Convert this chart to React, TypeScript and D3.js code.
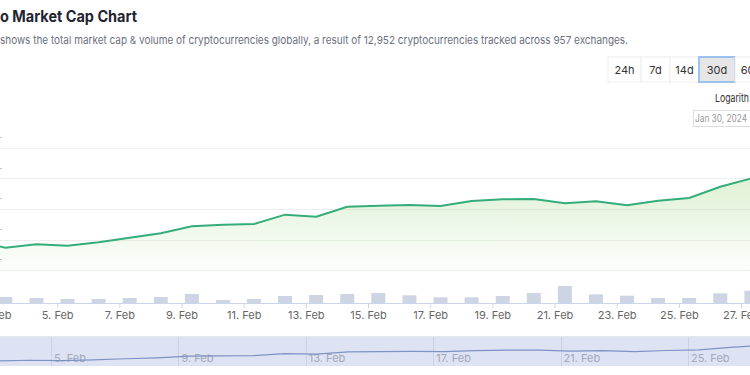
import { useEffect, useRef } from 'react'
import * as d3 from 'd3'

// Feb 2024, one sample per day (08:00 UTC), market cap in trillions USD
const days = [2, 3, 4, 5, 6, 7, 8, 9, 10, 11, 12, 13, 14, 15, 16, 17, 18, 19, 20, 21, 22, 23, 24, 25, 26, 27, 28]
const marketCap = [
  1.79, 1.746, 1.769, 1.759, 1.782, 1.812, 1.841, 1.887, 1.897, 1.902, 1.963, 1.95, 2.015, 2.022,
  2.026, 2.02, 2.052, 2.064, 2.066, 2.037, 2.05, 2.024, 2.054, 2.072, 2.146, 2.201, 2.27,
]
// 24h volume in billions USD
const volume = [
  70, 60, 50, 40, 40, 50, 60, 90, 30, 40, 70, 80, 90, 100, 77, 57, 57, 70, 100, 170, 87, 73, 50, 50,
  97, 123, 110,
]
const yTicks = [1.6, 1.8, 2.0, 2.2, 2.4]
const xTickDays = [3, 5, 7, 9, 11, 13, 15, 17, 19, 21, 23, 25, 27]
const navTickDays = [5, 9, 13, 17, 21, 25]
const ranges = ['24h', '7d', '14d', '30d', '60d']
const selectedRange = '30d'

const W = 750
const H = 375
const font = 'Inter, "Noto Sans", sans-serif'

export default function App() {
  const ref = useRef<SVGSVGElement>(null)

  useEffect(() => {
    const svg = d3.select(ref.current)
    svg.selectAll('*').remove()

    const data = days.map((d, i) => ({
      date: new Date(Date.UTC(2024, 1, d, 8)),
      cap: marketCap[i],
      vol: volume[i],
    }))

    const day = (d: number) => new Date(Date.UTC(2024, 1, d))

    // header
    svg.append('text')
      .attr('x', 0).attr('y', 22)
      .attr('font-family', font).attr('font-size', 15.5).attr('font-weight', 700)
      .attr('fill', '#1f2430')
      .attr('textLength', 137).attr('lengthAdjust', 'spacingAndGlyphs')
      .text('o Market Cap Chart')

    svg.append('text')
      .attr('x', 0).attr('y', 44)
      .attr('font-family', font).attr('font-size', 11)
      .attr('fill', '#6b7080')
      .attr('textLength', 628).attr('lengthAdjust', 'spacingAndGlyphs')
      .text('shows the total market cap & volume of cryptocurrencies globally, a result of 12,952 cryptocurrencies tracked across 957 exchanges.')

    // range buttons
    const bx = d3.scaleOrdinal<string, number>().domain(ranges).range([608, 641, 670, 699, 735])
    const bw = d3.scaleOrdinal<string, number>().domain(ranges).range([33, 29, 29, 36, 32])
    const btn = svg.append('g').selectAll('g').data(ranges).enter().append('g')
    btn.append('rect')
      .attr('x', d => bx(d)).attr('y', 57)
      .attr('width', d => bw(d)).attr('height', 25)
      .attr('fill', d => (d === selectedRange ? '#e6e6e6' : '#fff'))
      .attr('stroke', d => (d === selectedRange ? '#9cc3ee' : '#eeeeee'))
      .attr('stroke-width', d => (d === selectedRange ? 2 : 1))
    btn.append('text')
      .attr('x', d => bx(d) + bw(d) / 2).attr('y', 74)
      .attr('text-anchor', 'middle')
      .attr('font-family', font).attr('font-size', 11)
      .attr('fill', '#333')
      .text(d => d)

    svg.append('text')
      .attr('x', 715).attr('y', 102)
      .attr('font-family', font).attr('font-size', 11)
      .attr('fill', '#333')
      .attr('textLength', 34).attr('lengthAdjust', 'spacingAndGlyphs')
      .text('Logarith')

    svg.append('rect')
      .attr('x', 693.5).attr('y', 110.5).attr('width', 70).attr('height', 16)
      .attr('fill', '#fff').attr('stroke', '#dddddd')
    svg.append('text')
      .attr('x', 695).attr('y', 122)
      .attr('font-family', font).attr('font-size', 10)
      .attr('fill', '#999')
      .attr('textLength', 52).attr('lengthAdjust', 'spacingAndGlyphs')
      .text('Jan 30, 2024')

    // main scales
    const x = d3.scaleUtc().domain([day(3), day(27)]).range([-5, 741])
    const y = d3.scaleLinear().domain([1.6, 2.4]).range([270, 148])
    const yv = d3.scaleLinear().domain([0, 300]).range([303, 273])

    const defs = svg.append('defs')
    const grad = defs.append('linearGradient')
      .attr('id', 'capFill').attr('x1', 0).attr('y1', 0).attr('x2', 0).attr('y2', 1)
    grad.append('stop').attr('offset', '0%').attr('stop-color', '#8fd16e').attr('stop-opacity', 0.32)
    grad.append('stop').attr('offset', '100%').attr('stop-color', '#8fd16e').attr('stop-opacity', 0.02)

    // gridlines
    svg.append('g').selectAll('line').data(yTicks).enter().append('line')
      .attr('x1', 0).attr('x2', W)
      .attr('y1', d => Math.round(y(d)) + 0.5).attr('y2', d => Math.round(y(d)) + 0.5)
      .attr('stroke', '#eeeeee')

    svg.append('g').selectAll('text').data(yTicks).enter().append('text')
      .attr('x', 2).attr('y', d => y(d) - 3)
      .attr('text-anchor', 'end')
      .attr('font-family', font).attr('font-size', 11)
      .attr('fill', '#bbb')
      .text(d => `$${d.toFixed(1)}T`)

    // area + line
    const area = d3.area<typeof data[0]>()
      .x(d => x(d.date)).y0(y(1.6)).y1(d => y(d.cap))
    svg.append('path').datum(data).attr('d', area).attr('fill', 'url(#capFill)')

    const line = d3.line<typeof data[0]>().x(d => x(d.date)).y(d => y(d.cap))
    svg.append('path').datum(data).attr('d', line)
      .attr('fill', 'none').attr('stroke', '#35ad7b').attr('stroke-width', 2)

    // volume bars
    svg.append('g').selectAll('rect').data(data).enter().append('rect')
      .attr('x', d => x(d.date) - 7).attr('width', 14)
      .attr('y', d => yv(d.vol)).attr('height', d => yv(0) - yv(d.vol))
      .attr('fill', '#cdd5e4')

    // x axis
    const xAxis = svg.append('g').attr('transform', 'translate(0,303)')
      .call(d3.axisBottom(x)
        .tickValues(xTickDays.map(day))
        .tickSize(5)
        .tickFormat(d => `${(d as Date).getUTCDate()}. Feb`))
    xAxis.select('.domain').attr('stroke', '#ccd6eb').attr('d', `M0,0.5H${W}`)
    xAxis.selectAll('.tick line').attr('stroke', '#ccd6eb')
    xAxis.selectAll('.tick text')
      .attr('y', 8).attr('font-family', font).attr('font-size', 11).attr('fill', '#666')

    // navigator
    const nx = d3.scaleUtc().domain([day(5), day(25)]).range([51, 688])
    const ny = d3.scaleLinear().domain([1.6, 2.45]).range([366, 337])
    svg.append('rect')
      .attr('x', 0).attr('y', 337).attr('width', W).attr('height', 29)
      .attr('fill', '#dde3f3')
    svg.append('line')
      .attr('x1', 0).attr('x2', W).attr('y1', 336.5).attr('y2', 336.5)
      .attr('stroke', '#e3e6ee')
    svg.append('g').selectAll('line').data(navTickDays).enter().append('line')
      .attr('x1', d => Math.round(nx(day(d))) + 0.5).attr('x2', d => Math.round(nx(day(d))) + 0.5)
      .attr('y1', 337).attr('y2', 366)
      .attr('stroke', '#c9d1e4')
    svg.append('g').selectAll('text').data(navTickDays).enter().append('text')
      .attr('x', d => nx(day(d)) + 3).attr('y', 362)
      .attr('font-family', font).attr('font-size', 11)
      .attr('fill', '#a3a9b8')
      .text(d => `${d}. Feb`)
    const navLine = d3.line<typeof data[0]>().x(d => nx(d.date)).y(d => ny(d.cap))
    svg.append('path').datum(data).attr('d', navLine)
      .attr('fill', 'none').attr('stroke', '#7d93c4').attr('stroke-width', 1.2)
  }, [])

  return (
    <div style={{ position: 'absolute', left: 0, top: 0, width: W, height: H, background: '#fff' }}>
      <svg ref={ref} width={W} height={H} style={{ display: 'block' }} />
    </div>
  )
}
